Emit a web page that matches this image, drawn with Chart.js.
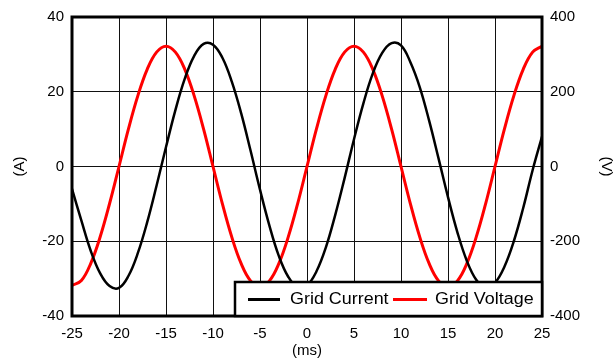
<!DOCTYPE html>
<html>
<head>
<meta charset="utf-8">
<script src="https://cdn.jsdelivr.net/npm/chart.js@4"></script>
<style>
  html, body { margin: 0; padding: 0; background: #fff; }
  #wrap { width: 615px; height: 360px; }
</style>
</head>
<body>
<div id="wrap"><canvas id="gridChart" width="615" height="360"></canvas></div>
<script>
// time axis (ms), one sample per millisecond
const times = [-25, -24, -23, -22, -21, -20, -19, -18, -17, -16, -15, -14, -13, -12, -11, -10, -9, -8, -7, -6,
    -5, -4, -3, -2, -1, 0, 1, 2, 3, 4, 5, 6, 7, 8, 9, 10, 11, 12, 13, 14, 15, 16, 17, 18, 19, 20, 21, 22, 23, 24, 25];

// Grid Current (A), left axis
const current = [-6, -14.5, -22.6, -28.6, -32, -32.5, -29.3, -23.2, -14.9, -5.1, 5.2, 15.1, 23.5, 29.6, 32.8, 32.6,
    29.1, 22.7, 14.2, 4.2, -6.2, -15.8, -23.9, -29.5, -32.3, -31.8, -28.1, -21.7, -13, -3.1, 7.3, 16.9, 24.9, 30.4,
    33, 32.4, 27.9, 21.2, 12.2, 2.1, -8.2, -17.6, -25.2, -30.3, -32.5, -31.1, -26.8, -20, -11.1, -1, 8];

// Grid Voltage (V), right axis
const voltage = [-318, -305, -259, -188, -99, 0, 100, 189, 260, 306, 322, 306, 260, 189, 100, 0, -100, -189, -260,
    -306, -321, -306, -260, -189, -100, 0, 100, 189, 260, 306, 322, 306, 260, 189, 100, 0, -100, -189, -260, -306,
    -321, -306, -260, -189, -100, 0, 100, 189, 260, 306, 322];

const xTicks = [-25, -20, -15, -10, -5, 0, 5, 10, 15, 20, 25];

const font = { family: "Arial, 'Liberation Sans', sans-serif", size: 15 };

// box around the plot
const frame = {
    id: 'frame',
    afterDatasetsDraw(chart) {
        const { ctx, chartArea: a } = chart;
        ctx.save();
        ctx.strokeStyle = '#000';
        ctx.lineWidth = 3;
        ctx.strokeRect(a.left, a.top, a.right - a.left, a.bottom - a.top);
        ctx.restore();
    }
};

// legend boxed inside the bottom right corner
const boxLegend = {
    id: 'boxLegend',
    afterDraw(chart) {
        const { ctx, chartArea: a } = chart;
        const w = 307, h = 34;
        const x = a.right - w, y = a.bottom - h;
        ctx.save();
        ctx.fillStyle = '#fff';
        ctx.fillRect(x, y, w, h);
        ctx.strokeStyle = '#000';
        ctx.lineWidth = 2.5;
        ctx.strokeRect(x, y, w, h);
        ctx.font = "16px Arial, 'Liberation Sans', sans-serif";
        ctx.textBaseline = 'middle';
        ctx.fillStyle = '#000';
        const cy = y + h / 2 + 0.5;
        const items = [
            { x: 13, line: 32, text: 55 },
            { x: 158, line: 34, text: 200 }
        ];
        chart.data.datasets.forEach((ds, i) => {
            const it = items[i];
            ctx.strokeStyle = ds.borderColor;
            ctx.lineWidth = 3;
            ctx.beginPath();
            ctx.moveTo(x + it.x, cy);
            ctx.lineTo(x + it.x + it.line, cy);
            ctx.stroke();
            ctx.save();
            ctx.translate(x + it.text, cy);
            ctx.scale(1.12, 1);
            ctx.fillText(ds.label, 0, 0);
            ctx.restore();
        });
        ctx.restore();
    }
};

new Chart(document.getElementById('gridChart'), {
    type: 'line',
    data: {
        datasets: [{
            label: 'Grid Current',
            data: times.map((t, i) => ({ x: t, y: current[i] })),
            borderColor: '#000000',
            borderWidth: 2.5,
            pointRadius: 0,
            tension: 0.4,
            yAxisID: 'y'
        }, {
            label: 'Grid Voltage',
            data: times.map((t, i) => ({ x: t, y: voltage[i] })),
            borderColor: '#ff0000',
            borderWidth: 3,
            pointRadius: 0,
            tension: 0.4,
            yAxisID: 'y1'
        }]
    },
    options: {
        responsive: false,
        animation: false,
        layout: { padding: { top: 17, left: 0, right: 0, bottom: 0 } },
        plugins: {
            legend: { display: false },
            tooltip: { enabled: false }
        },
        scales: {
            x: {
                type: 'linear',
                min: -25,
                max: 25,
                afterBuildTicks: (s) => { s.ticks = xTicks.map(v => ({ value: v })); },
                afterFit: (s) => { s.height = 44; },
                grid: { color: '#111', lineWidth: 1, drawTicks: false },
                border: { display: false },
                ticks: { color: '#000', font: font, padding: 9 },
                title: { display: true, text: '(ms)', color: '#000', font: font, padding: { top: 0, bottom: 0 } }
            },
            y: {
                position: 'left',
                min: -40,
                max: 40,
                afterFit: (s) => { s.width = 72; },
                grid: { color: '#111', lineWidth: 1, drawTicks: false },
                border: { display: false },
                ticks: { stepSize: 20, color: '#000', font: font, padding: 8 },
                title: { display: true, text: '(A)', color: '#000', font: font, padding: { top: 11, bottom: 0 } }
            },
            y1: {
                position: 'right',
                min: -400,
                max: 400,
                afterFit: (s) => { s.width = 73; },
                grid: { display: false, drawTicks: false },
                border: { display: false },
                ticks: { stepSize: 200, color: '#000', font: font, padding: 8 },
                title: { display: true, text: '(V)', color: '#000', font: font, padding: { top: 0, bottom: 0 } }
            }
        }
    },
    plugins: [frame, boxLegend]
});
</script>
</body>
</html>
